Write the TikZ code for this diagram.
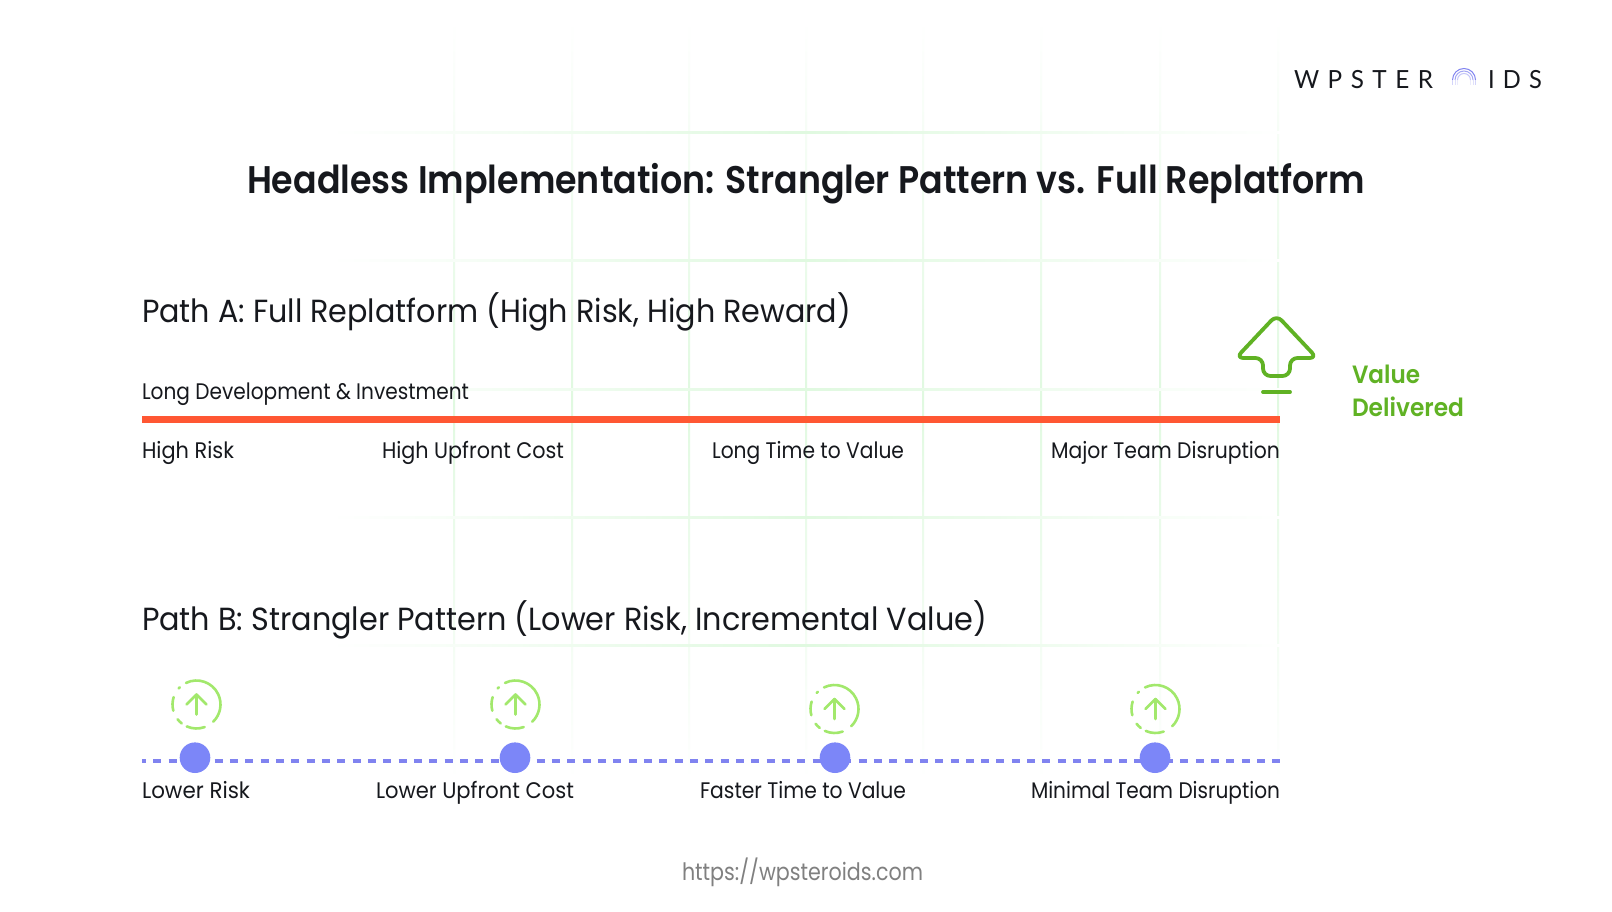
\documentclass[tikz,border=0pt]{standalone}
\usepackage{fontspec}
\usepackage{graphicx}
\setmainfont{Poppins}
\newfontfamily\medfont[UprightFont=* SemiBold]{Poppins}
\newfontfamily\logofont[LetterSpace=35]{Lato}
\definecolor{ink}{HTML}{16181D}
\definecolor{redbar}{HTML}{FF5733}
\definecolor{valgreen}{HTML}{60B224}
\definecolor{lightgreen}{HTML}{A2E86C}
\definecolor{violet}{HTML}{7C86F8}
\definecolor{dashviolet}{HTML}{8083F0}
\definecolor{gridgreen}{HTML}{E0F9E0}
\newcommand{\fitw}[2]{\resizebox{#1pt}{\height}{#2}}
\tikzset{
  lbl/.style={inner sep=0pt,outer sep=0pt,text=ink},
  title/.style={lbl,anchor=base west,font=\fontsize{38.5}{38.5}\selectfont\medfont},
  head/.style={lbl,anchor=base west,font=\fontsize{32}{32}\selectfont},
  small/.style={lbl,anchor=base west,font=\fontsize{22.5}{22.5}\selectfont},
  val/.style={lbl,anchor=base west,text=valgreen,font=\fontsize{25}{25}\selectfont\medfont},
  url/.style={lbl,anchor=base west,text=black!50,font=\fontsize{24}{24}\selectfont},
  logo/.style={lbl,anchor=base west,font=\fontsize{25}{25}\selectfont\logofont},
  dot/.style={circle,fill=violet,minimum size=30.6pt,inner sep=0pt,outer sep=0pt},
  ringpart/.style={draw=lightgreen,line width=2.6pt,line cap=round},
  icon/.style={draw=valgreen,line width=3.8pt,line cap=round,line join=round},
}
\newcommand{\gridV}[1]{\shade[top color=white,bottom color=white,middle color=gridgreen] (#1-1,20) rectangle (#1+1,780);}
\newcommand{\gridH}[1]{\shade[left color=white,right color=white,middle color=gridgreen] (330,#1-1) rectangle (1285,#1+1);}
\begin{document}
\begin{tikzpicture}[x=1pt,y=-1pt]
\useasboundingbox (0,0) rectangle (1612,912);
\fill[white] (0,0) rectangle (1612,912);
\foreach \gx in {454,572,689,806,923,1041,1160,1278} {\gridV{\gx}}
\foreach \gy in {133,261,389,517,645} {\gridH{\gy}}

% logo
\node[logo] (logoa) at (1294,89) {\fitw{139}{WPSTER}};
\node[logo] (logob) at (1488,89) {\fitw{54}{IDS}};
\foreach \r/\o in {11.5/1,9/0.7,6.5/0.45} {
  \draw[dashviolet,line width=1pt,opacity=\o] (1464-\r,80) arc[start angle=180,end angle=0,x radius=\r,y radius=-\r];
  \draw[dashviolet!35,line width=1pt,opacity=\o] (1464-\r,80) -- (1464-\r,85);
  \draw[dashviolet!35,line width=1pt,opacity=\o] (1464+\r,80) -- (1464+\r,85);
}

% title
\node[title] (ttl) at (247,194) {\fitw{1118}{Headless Implementation: Strangler Pattern vs. Full Replatform}};

% path A
\node[head] (pa) at (142,322) {\fitw{709}{Path A: Full Replatform (High Risk, High Reward)}};
\node[small] (ld) at (142,399) {\fitw{327}{Long Development \& Investment}};
\coordinate (ra) at (142,419.5);
\coordinate (rb) at (1280,419.5);
\draw[redbar,line width=7.6pt] (ra) -- (rb);
\node[small] (a1) at (142,458) {\fitw{92}{High Risk}};
\node[small] (a2) at (382,458) {\fitw{182}{High Upfront Cost}};
\node[small] (a3) at (712,458) {\fitw{192}{Long Time to Value}};
\node[small] (a4) at (1051,458) {\fitw{229}{Major Team Disruption}};

% big arrow
\draw[icon,rounded corners=7.5pt] (1276.5,315) -- (1236,358) -- (1263,358) -- (1263,376) -- (1290,376) -- (1290,358) -- (1317,358) -- cycle;
\draw[icon] (1263,392) -- (1290,392);
\node[val] (v1) at (1352,383) {\fitw{68}{Value}};
\node[val] (v2) at (1352,416) {\fitw{112}{Delivered}};

% path B
\node[head] (pb) at (142,630) {\fitw{845}{Path B: Strangler Pattern (Lower Risk, Incremental Value)}};
\coordinate (da) at (142,760.7);
\coordinate (db) at (1280,760.7);
\draw[dashviolet,line width=3.6pt,dash pattern=on 8pt off 7.33pt,dash phase=4pt] (da) -- (db);
\node[dot] (d1) at (195,757.7) {};
\node[dot] (d2) at (515,757.7) {};
\node[dot] (d3) at (835,757.7) {};
\node[dot] (d4) at (1155,757.7) {};

\foreach \cx/\cy in {196.5/704.5,515.5/704.5,834.5/709,1155.5/709} {
  \begin{scope}[shift={(\cx,\cy)}]
    \draw[ringpart] (116:24 and -24) arc[start angle=116,end angle=-46,x radius=24,y radius=-24];
    \draw[ringpart] (-70:24 and -24) arc[start angle=-70,end angle=-114,x radius=24,y radius=-24];
    \draw[ringpart] (-128:24 and -24) arc[start angle=-128,end angle=-142,x radius=24,y radius=-24];
    \draw[ringpart] (-165:24 and -24) arc[start angle=-165,end angle=-198,x radius=24,y radius=-24];
    \draw[ringpart] (-226:24 and -24) arc[start angle=-226,end angle=-222,x radius=24,y radius=-24];
    \draw[ringpart,line join=round] (0,10) -- (0,-10);
    \draw[ringpart,line join=round] (-10,0) -- (0,-10) -- (10,0);
  \end{scope}
}

\node[small] (b1) at (142,798) {\fitw{108}{Lower Risk}};
\node[small] (b2) at (376,798) {\fitw{198}{Lower Upfront Cost}};
\node[small] (b3) at (700,798) {\fitw{206}{Faster Time to Value}};
\node[small] (b4) at (1031,798) {\fitw{249}{Minimal Team Disruption}};

\node[url] (u) at (682,880) {\fitw{241}{https://wpsteroids.com}};
\end{tikzpicture}
\end{document}
